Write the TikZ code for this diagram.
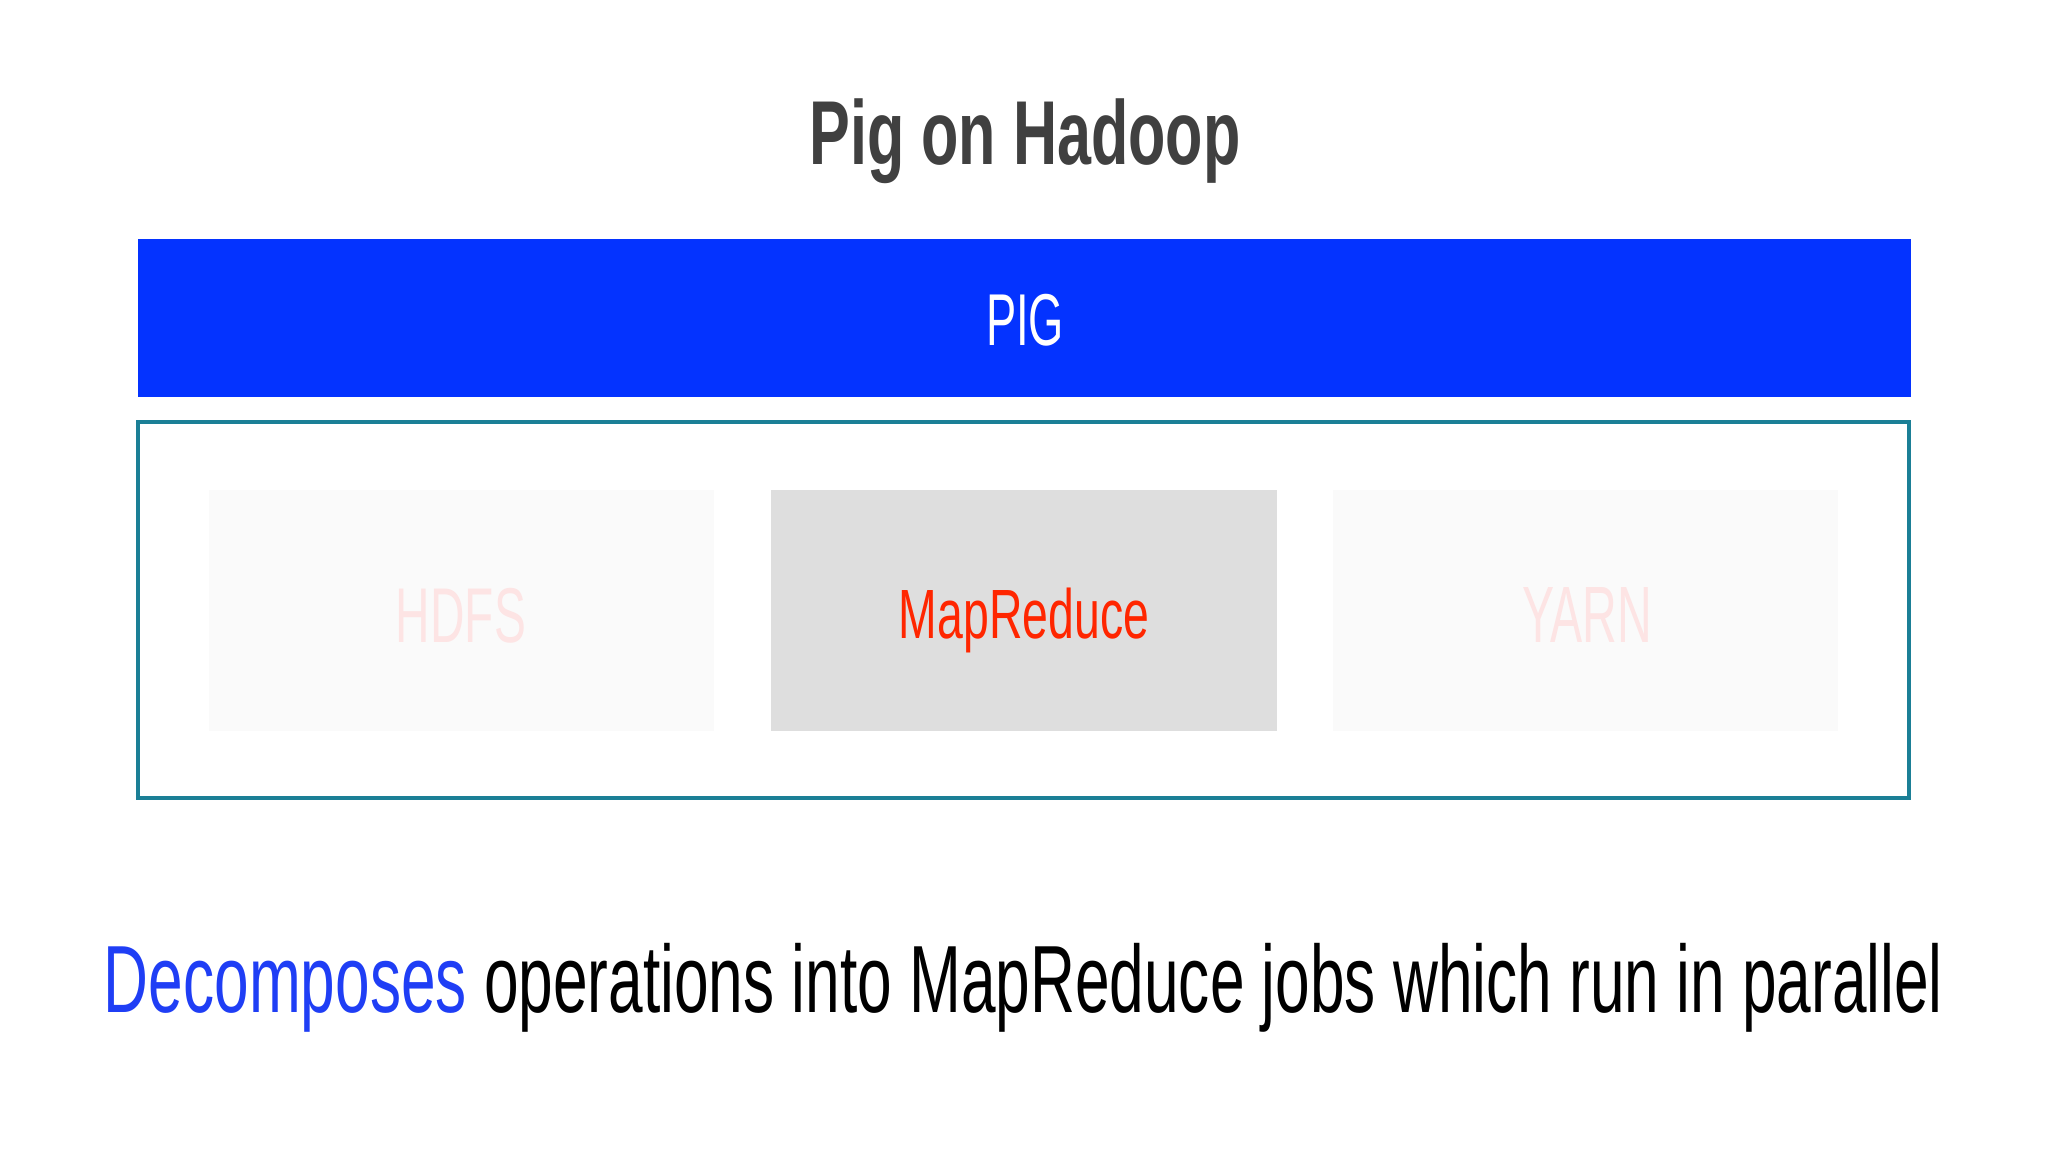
\documentclass[tikz,border=0pt]{standalone}
\usepackage{fontspec}
\setmainfont{Liberation Sans}
\usepackage{graphicx}
\usepackage{xcolor}
\usepackage{tikz}
\usetikzlibrary{positioning}

\definecolor{pigblue}{HTML}{0433FF}
\definecolor{frameteal}{HTML}{1B7F96}
\definecolor{mrgray}{HTML}{DEDEDE}
\definecolor{fadegray}{HTML}{FAFAFA}
\definecolor{fadepink}{HTML}{FDE4E4}
\definecolor{mrred}{HTML}{FF2600}
\definecolor{titlegray}{HTML}{404040}
\definecolor{wordblue}{HTML}{1F3EF5}

\tikzset{
  layerbox/.style={draw=none, minimum width=5.05cm, minimum height=2.41cm, inner sep=0pt},
  boxtext/.style={inner sep=0pt, anchor=center}
}

\begin{document}
\begin{tikzpicture}[x=0.01cm, y=-0.01cm]
\useasboundingbox (0,0) rectangle (2048,1152);

% Title
\node[boxtext, text=titlegray] (title) at (1025,141) {\resizebox*{431\dimexpr0.01cm\relax}{85\dimexpr0.01cm\relax}{\bfseries Pig on Hadoop}};

% Pig layer
\fill[pigblue] (138,239) rectangle (1911,397);
\node[boxtext, text=white] (pig) at (1025,320) {\resizebox*{78\dimexpr0.01cm\relax}{52\dimexpr0.01cm\relax}{PIG}};

% Hadoop frame
\draw[frameteal, line width=1pt] (138,422) rectangle (1909,798);

% Hadoop parts
\node[layerbox, fill=fadegray] (hdfs) at (461.5,610.5) {};
\node[layerbox, fill=mrgray] (mapreduce) at (1024,610.5) {};
\node[layerbox, fill=fadegray] (yarn) at (1585.5,610.5) {};

\node[boxtext, text=fadepink] (hdfstext) at (461,615.5) {\resizebox*{130\dimexpr0.01cm\relax}{55\dimexpr0.01cm\relax}{HDFS}};
\node[boxtext, text=mrred] (mrtext) at (1024,620.5) {\resizebox*{250\dimexpr0.01cm\relax}{65\dimexpr0.01cm\relax}{MapReduce}};
\node[boxtext, text=fadepink] (yarntext) at (1587,615.5) {\resizebox*{130\dimexpr0.01cm\relax}{55\dimexpr0.01cm\relax}{YARN}};

% Caption
\node[boxtext] (caption) at (1023.5,987.5) {\resizebox*{1839\dimexpr0.01cm\relax}{89\dimexpr0.01cm\relax}{\textcolor{wordblue}{Decomposes} operations into MapReduce jobs which run in parallel}};
\end{tikzpicture}
\end{document}
